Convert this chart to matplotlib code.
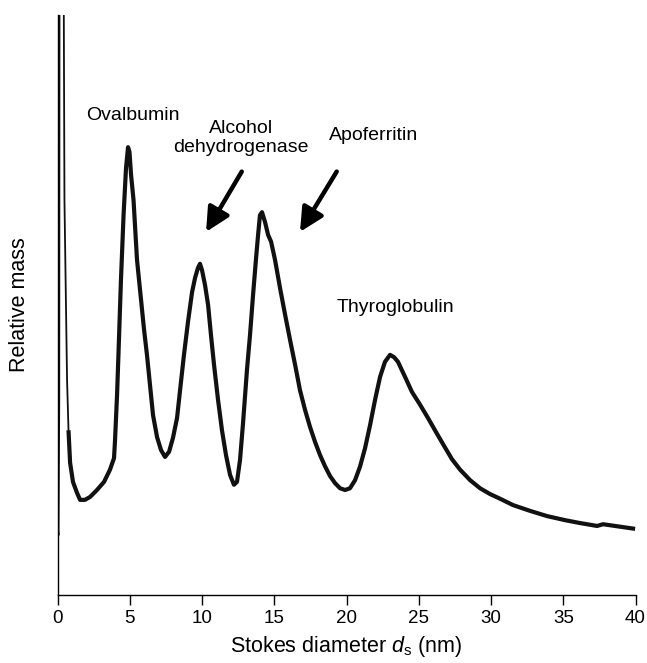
import numpy as np
import matplotlib
matplotlib.use('Agg')
import matplotlib.pyplot as plt

plt.rcParams['font.family'] = ['Liberation Sans', 'DejaVu Sans']
plt.rcParams['mathtext.fontset'] = 'custom'
plt.rcParams['mathtext.rm'] = 'Liberation Sans'
plt.rcParams['mathtext.it'] = 'Liberation Sans:italic'

# size distribution trace (Stokes diameter in nm, relative mass in arbitrary units)
diameter = [0.0, 0.07, 0.12, 0.14, 0.42, 0.48, 0.66, 0.76, 0.87, 1.07, 1.35, 1.56,
            1.90, 2.25, 2.73, 3.22, 3.63, 3.91, 3.98, 4.12, 4.22, 4.39, 4.57, 4.74,
            4.88, 4.98, 5.09, 5.26, 5.50, 5.71, 5.99, 6.19, 6.40, 6.61, 6.89, 7.16,
            7.44, 7.72, 7.99, 8.27, 8.48, 8.75, 9.03, 9.31, 9.52, 9.72, 9.86, 10.0,
            10.21, 10.42, 10.62, 10.83, 11.11, 11.38, 11.66, 11.94, 12.21, 12.42, 12.63,
            12.84, 13.11, 13.32, 13.53, 13.74, 13.88, 14.01, 14.15, 14.36, 14.57, 14.78,
            15.05, 15.40, 15.75, 16.09, 16.44, 16.78, 17.13, 17.47, 17.82, 18.17, 18.51,
            18.86, 19.20, 19.55, 19.90, 20.24, 20.59, 20.93, 21.28, 21.63, 21.97, 22.32,
            22.66, 23.01, 23.29, 23.56, 24.05, 24.53, 25.09, 25.64, 26.19, 26.75, 27.30,
            27.86, 28.55, 29.24, 29.93, 30.62, 31.52, 32.70, 33.88, 35.12, 36.16, 37.34,
            37.75, 38.58, 39.97]
rel_mass = [0.121, 0.103, 0.336, 1.11, 1.11, 0.681, 0.371, 0.284, 0.228, 0.195, 0.176, 0.164,
            0.164, 0.169, 0.181, 0.195, 0.216, 0.236, 0.267, 0.345, 0.417, 0.543, 0.655, 0.736,
            0.772, 0.764, 0.724, 0.681, 0.578, 0.526, 0.457, 0.414, 0.362, 0.310, 0.272, 0.250,
            0.238, 0.247, 0.271, 0.305, 0.353, 0.414, 0.471, 0.522, 0.547, 0.564, 0.571, 0.560,
            0.534, 0.500, 0.448, 0.397, 0.336, 0.284, 0.241, 0.207, 0.190, 0.195, 0.233,
            0.297, 0.388, 0.448, 0.517, 0.581, 0.621, 0.655, 0.660, 0.643, 0.621, 0.609,
            0.578, 0.529, 0.483, 0.440, 0.397, 0.353, 0.319, 0.290, 0.264, 0.241, 0.222,
            0.205, 0.193, 0.184, 0.181, 0.184, 0.198, 0.221, 0.253, 0.293, 0.336, 0.376,
            0.402, 0.414, 0.410, 0.402, 0.376, 0.350, 0.328, 0.305, 0.281, 0.257, 0.234,
            0.216, 0.198, 0.184, 0.174, 0.166, 0.155, 0.145, 0.136, 0.129, 0.124, 0.119,
            0.122, 0.119, 0.114]

# peak labels: (text, x, y)
peak_labels = [
    ('Ovalbumin', 5.2, 0.826),
    ('Alcohol\ndehydrogenase', 12.7, 0.788),
    ('Apoferritin', 21.9, 0.793),
    ('Thyroglobulin', 23.4, 0.495),
]
# arrows: (tail, head)
arrows = [
    ((12.75, 0.730), (10.28, 0.626)),
    ((19.32, 0.730), (16.78, 0.626)),
]

fig = plt.figure(figsize=(6.47, 6.63), dpi=100)
ax = fig.add_axes([0.0889, 0.1026, 0.8934, 0.8748])

# void-volume spike is drawn thin, the rest of the trace heavier
split = 7
ax.plot(diameter[:split + 2], rel_mass[:split + 2], color='#111111', lw=1.3)
ax.plot(diameter[split:], rel_mass[split:], color='#111111', lw=3.0,
        solid_joinstyle='round', solid_capstyle='butt')

for txt, x, y in peak_labels:
    ax.text(x, y, txt, ha='center', va='center', fontsize=14, linespacing=1.15)

for tail, head in arrows:
    ax.annotate('', xy=head, xytext=tail,
                arrowprops=dict(arrowstyle='-|>,head_width=0.45,head_length=0.9',
                                lw=3.2, color='black', mutation_scale=16,
                                shrinkA=0, shrinkB=0))

ax.set_xlim(0, 40)
ax.set_ylim(0, 1)
ax.set_xticks(range(0, 41, 5))
ax.set_yticks([])
ax.tick_params(axis='x', labelsize=13.5, length=7, width=1, direction='out', pad=4)
ax.spines['top'].set_visible(False)
ax.spines['right'].set_visible(False)
ax.spines['left'].set_linewidth(1)
ax.spines['bottom'].set_linewidth(1)

ax.set_xlabel(r'Stokes diameter $d_\mathrm{s}$ (nm)', fontsize=15.5, labelpad=5)
ax.set_ylabel('Relative mass', fontsize=15.5, labelpad=20)

fig.savefig('out.png', dpi=100)
